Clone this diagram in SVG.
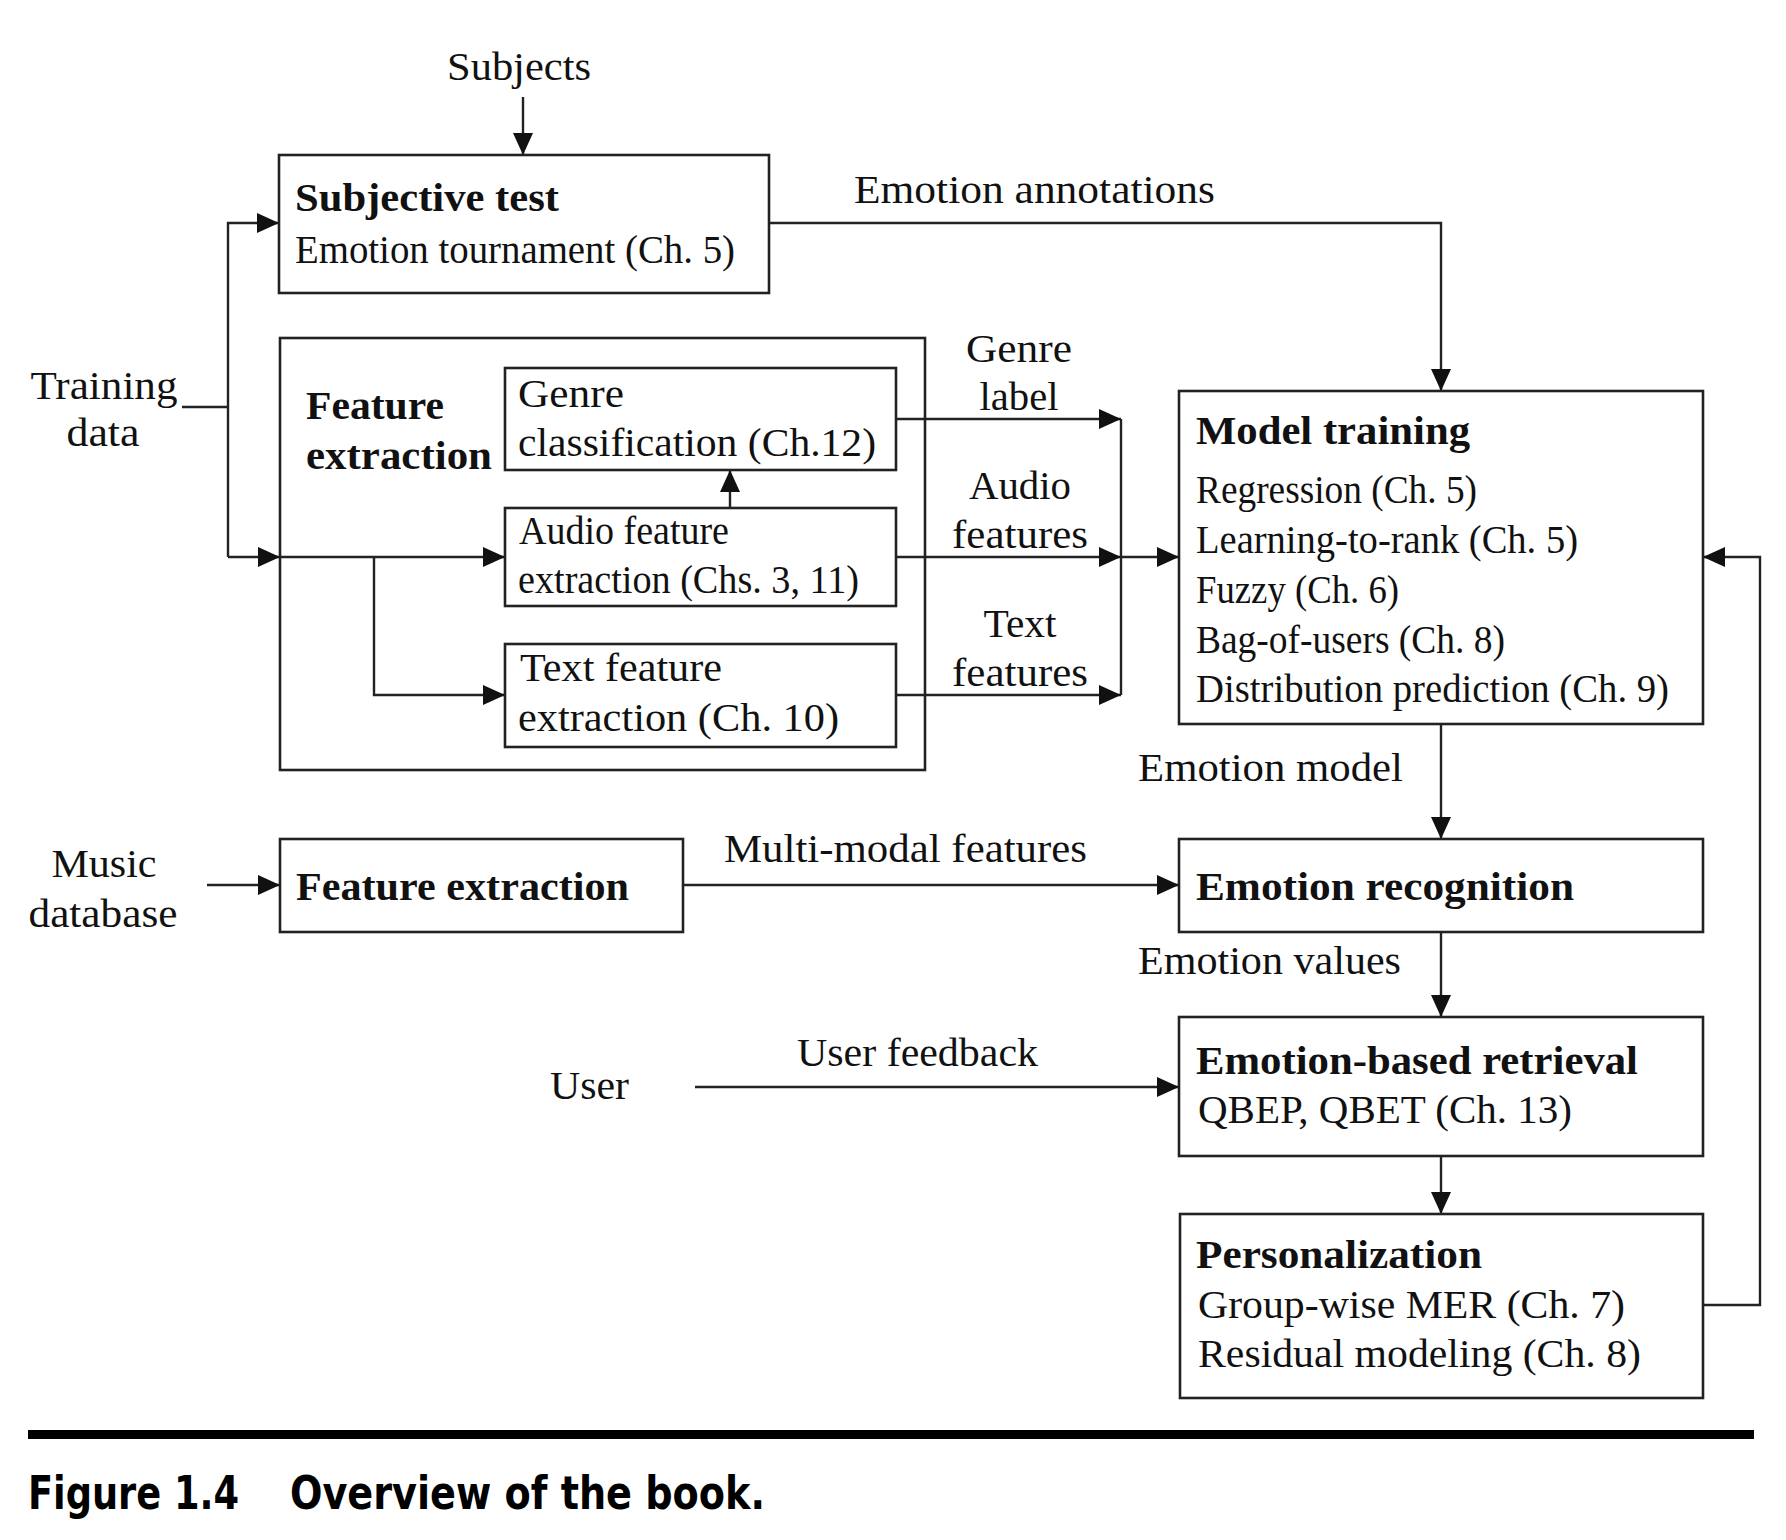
<svg xmlns="http://www.w3.org/2000/svg" width="1786" height="1540" viewBox="0 0 1786 1540">
<style>
.t{font-family:"Liberation Serif","DejaVu Serif",serif;font-size:39px;fill:#111}
.b{font-family:"Liberation Serif","DejaVu Serif",serif;font-size:39px;font-weight:bold;fill:#111}
.box{fill:none;stroke:#222;stroke-width:2.6}
.ln{fill:none;stroke:#222;stroke-width:2.4}
.cap{font-family:"Liberation Sans Narrow","DejaVu Sans Condensed","Liberation Sans",sans-serif;font-size:46px;font-weight:bold;fill:#000}
</style>
<defs>
<marker id="arr" viewBox="0 0 22 20" refX="22" refY="10" markerWidth="22" markerHeight="20" orient="auto" markerUnits="userSpaceOnUse">
<path d="M0,0 L22,10 L0,20 Z" fill="#111"/>
</marker>
</defs>
<rect width="1786" height="1540" fill="#fff"/>

<g id="connectors">
<path class="ln" d="M523,97 V155" marker-end="url(#arr)"/>
<path class="ln" d="M769,223 H1441 V391" marker-end="url(#arr)"/>
<path class="ln" d="M182,407 H228"/>
<path class="ln" d="M228,557 V223 H279" marker-end="url(#arr)"/>
<path class="ln" d="M228,557 H280" marker-end="url(#arr)"/>
<path class="ln" d="M280,557 H505" marker-end="url(#arr)"/>
<path class="ln" d="M374,557 V695 H505" marker-end="url(#arr)"/>
<path class="ln" d="M730,508 V470" marker-end="url(#arr)"/>
<path class="ln" d="M896,419 H1121" marker-end="url(#arr)"/>
<path class="ln" d="M896,557 H1121" marker-end="url(#arr)"/>
<path class="ln" d="M896,695 H1121" marker-end="url(#arr)"/>
<path class="ln" d="M1121,419 V695"/>
<path class="ln" d="M1121,557 H1179" marker-end="url(#arr)"/>
<path class="ln" d="M1441,724 V839" marker-end="url(#arr)"/>
<path class="ln" d="M207,885 H280" marker-end="url(#arr)"/>
<path class="ln" d="M683,885 H1179" marker-end="url(#arr)"/>
<path class="ln" d="M1441,932 V1017" marker-end="url(#arr)"/>
<path class="ln" d="M695,1087 H1179" marker-end="url(#arr)"/>
<path class="ln" d="M1441,1156 V1214" marker-end="url(#arr)"/>
<path class="ln" d="M1703,1305 H1760 V557 H1703" marker-end="url(#arr)"/>
</g>

<g id="labels">
<text class="t" x="519" y="80" text-anchor="middle" textLength="144" lengthAdjust="spacingAndGlyphs">Subjects</text>
<text class="t" x="854" y="203" textLength="361" lengthAdjust="spacingAndGlyphs">Emotion annotations</text>
<text class="t" x="104" y="399" text-anchor="middle" textLength="147" lengthAdjust="spacingAndGlyphs">Training</text>
<text class="t" x="103" y="446" text-anchor="middle" textLength="73" lengthAdjust="spacingAndGlyphs">data</text>
<text class="t" x="1019" y="362" text-anchor="middle" textLength="106" lengthAdjust="spacingAndGlyphs">Genre</text>
<text class="t" x="1019" y="410" text-anchor="middle" textLength="79" lengthAdjust="spacingAndGlyphs">label</text>
<text class="t" x="1020" y="499" text-anchor="middle" textLength="102" lengthAdjust="spacingAndGlyphs">Audio</text>
<text class="t" x="1020" y="548" text-anchor="middle" textLength="136" lengthAdjust="spacingAndGlyphs">features</text>
<text class="t" x="1020" y="637" text-anchor="middle" textLength="73" lengthAdjust="spacingAndGlyphs">Text</text>
<text class="t" x="1020" y="686" text-anchor="middle" textLength="136" lengthAdjust="spacingAndGlyphs">features</text>
<text class="t" x="1138" y="781" textLength="265" lengthAdjust="spacingAndGlyphs">Emotion model</text>
<text class="t" x="104" y="877" text-anchor="middle" textLength="105" lengthAdjust="spacingAndGlyphs">Music</text>
<text class="t" x="103" y="927" text-anchor="middle" textLength="149" lengthAdjust="spacingAndGlyphs">database</text>
<text class="t" x="724" y="862" textLength="363" lengthAdjust="spacingAndGlyphs">Multi-modal features</text>
<text class="t" x="1138" y="974" textLength="263" lengthAdjust="spacingAndGlyphs">Emotion values</text>
<text class="t" x="550" y="1099" textLength="79" lengthAdjust="spacingAndGlyphs">User</text>
<text class="t" x="797" y="1066" textLength="241" lengthAdjust="spacingAndGlyphs">User feedback</text>
</g>

<g id="subjective-test">
<rect class="box" x="279" y="155" width="490" height="138"/>
<text class="b" x="295" y="211" textLength="264" lengthAdjust="spacingAndGlyphs">Subjective test</text>
<text class="t" x="295" y="263" textLength="440" lengthAdjust="spacingAndGlyphs">Emotion tournament (Ch. 5)</text>
</g>

<g id="feature-extraction-group">
<rect class="box" x="280" y="338" width="645" height="432"/>
<text class="b" x="306" y="419" textLength="138" lengthAdjust="spacingAndGlyphs">Feature</text>
<text class="b" x="306" y="469" textLength="186" lengthAdjust="spacingAndGlyphs">extraction</text>
</g>

<g id="genre-classification">
<rect class="box" x="505" y="368" width="391" height="102"/>
<text class="t" x="518" y="407" textLength="106" lengthAdjust="spacingAndGlyphs">Genre</text>
<text class="t" x="518" y="456" textLength="358" lengthAdjust="spacingAndGlyphs">classification (Ch.12)</text>
</g>

<g id="audio-feature-extraction">
<rect class="box" x="505" y="508" width="391" height="98"/>
<text class="t" x="519" y="544" textLength="210" lengthAdjust="spacingAndGlyphs">Audio feature</text>
<text class="t" x="518" y="593" textLength="341" lengthAdjust="spacingAndGlyphs">extraction (Chs. 3, 11)</text>
</g>

<g id="text-feature-extraction">
<rect class="box" x="505" y="644" width="391" height="103"/>
<text class="t" x="520" y="681" textLength="202" lengthAdjust="spacingAndGlyphs">Text feature</text>
<text class="t" x="518" y="731" textLength="321" lengthAdjust="spacingAndGlyphs">extraction (Ch. 10)</text>
</g>

<g id="model-training">
<rect class="box" x="1179" y="391" width="524" height="333"/>
<text class="b" x="1196" y="444" textLength="274" lengthAdjust="spacingAndGlyphs">Model training</text>
<text class="t" x="1196" y="503" textLength="281" lengthAdjust="spacingAndGlyphs">Regression (Ch. 5)</text>
<text class="t" x="1196" y="553" textLength="382" lengthAdjust="spacingAndGlyphs">Learning-to-rank (Ch. 5)</text>
<text class="t" x="1196" y="603" textLength="203" lengthAdjust="spacingAndGlyphs">Fuzzy (Ch. 6)</text>
<text class="t" x="1196" y="653" textLength="309" lengthAdjust="spacingAndGlyphs">Bag-of-users (Ch. 8)</text>
<text class="t" x="1196" y="702" textLength="473" lengthAdjust="spacingAndGlyphs">Distribution prediction (Ch. 9)</text>
</g>

<g id="feature-extraction">
<rect class="box" x="280" y="839" width="403" height="93"/>
<text class="b" x="296" y="900" textLength="333" lengthAdjust="spacingAndGlyphs">Feature extraction</text>
</g>

<g id="emotion-recognition">
<rect class="box" x="1179" y="839" width="524" height="93"/>
<text class="b" x="1196" y="900" textLength="378" lengthAdjust="spacingAndGlyphs">Emotion recognition</text>
</g>

<g id="emotion-based-retrieval">
<rect class="box" x="1179" y="1017" width="524" height="139"/>
<text class="b" x="1196" y="1074" textLength="442" lengthAdjust="spacingAndGlyphs">Emotion-based retrieval</text>
<text class="t" x="1198" y="1123" textLength="374" lengthAdjust="spacingAndGlyphs">QBEP, QBET (Ch. 13)</text>
</g>

<g id="personalization">
<rect class="box" x="1180" y="1214" width="523" height="184"/>
<text class="b" x="1196" y="1268" textLength="286" lengthAdjust="spacingAndGlyphs">Personalization</text>
<text class="t" x="1198" y="1318" textLength="427" lengthAdjust="spacingAndGlyphs">Group-wise MER (Ch. 7)</text>
<text class="t" x="1198" y="1367" textLength="443" lengthAdjust="spacingAndGlyphs">Residual modeling (Ch. 8)</text>
</g>

<g id="caption">
<rect x="28" y="1430" width="1726" height="9" fill="#000"/>
<text class="cap" x="28" y="1509" textLength="211" lengthAdjust="spacingAndGlyphs">Figure 1.4</text>
<text class="cap" x="290" y="1509" textLength="475" lengthAdjust="spacingAndGlyphs">Overview of the book.</text>
</g>
</svg>
